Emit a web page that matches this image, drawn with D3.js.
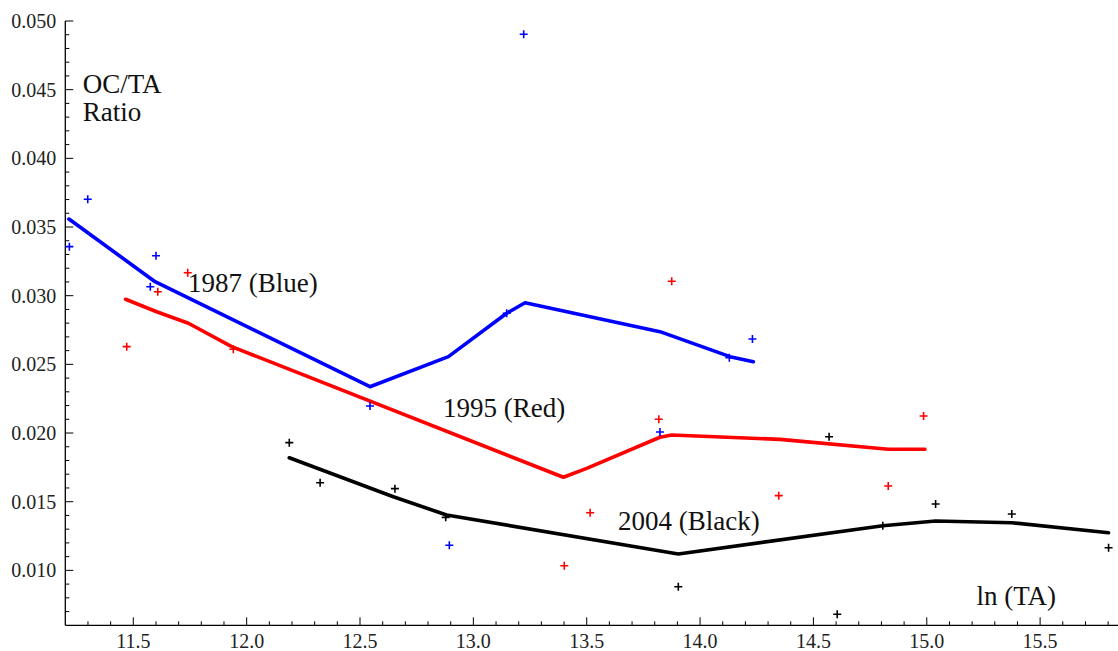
<!DOCTYPE html>
<html lang="en">
<head>
<meta charset="UTF-8">
<title>OC/TA ratio vs ln(TA)</title>
<script src="https://cdnjs.cloudflare.com/ajax/libs/d3/7.8.5/d3.min.js"></script>
<style>
  body { margin: 0; background: #fff; }
</style>
</head>
<body>
<svg id="chart"></svg>
<script>
// scatter points, one pair of arrays per year
var blueX = [11.218, 11.299, 11.575, 11.600, 12.544, 12.894, 13.147, 13.222, 13.823, 14.129, 14.231]
var blueY = [0.03357, 0.03702, 0.03065, 0.03291, 0.02197, 0.01183, 0.02872, 0.04903, 0.02007, 0.02548, 0.02685]
var redX = [11.471, 11.608, 11.740, 11.941, 13.401, 13.515, 13.818, 13.875, 14.347, 14.830, 14.986]
var redY = [0.02629, 0.03029, 0.03167, 0.02610, 0.01034, 0.01420, 0.02100, 0.03105, 0.01544, 0.01614, 0.02124]
var blackX = [12.188, 12.324, 12.654, 12.878, 13.904, 14.569, 14.605, 14.806, 15.039, 15.375, 15.802]
var blackY = [0.01930, 0.01638, 0.01595, 0.01386, 0.00881, 0.01973, 0.00680, 0.01325, 0.01483, 0.01410, 0.01165]

// smoothed lines
var blueLineX = [11.216, 11.596, 12.544, 12.890, 13.147, 13.228, 13.823, 14.132, 14.235]
var blueLineY = [0.03558, 0.03102, 0.02337, 0.02556, 0.02872, 0.02949, 0.02738, 0.02556, 0.02519]
var redLineX = [11.466, 11.603, 11.743, 11.934, 13.397, 13.500, 13.823, 13.875, 14.353, 14.830, 14.992]
var redLineY = [0.02974, 0.02883, 0.02799, 0.02629, 0.01678, 0.01743, 0.01969, 0.01986, 0.01954, 0.01882, 0.01882]
var blackLineX = [12.188, 12.647, 12.882, 13.904, 14.806, 15.039, 15.375, 15.802]
var blackLineY = [0.01820, 0.01536, 0.01403, 0.01119, 0.01325, 0.01359, 0.01347, 0.01274]

var xTicks = [11.5, 12.0, 12.5, 13.0, 13.5, 14.0, 14.5, 15.0, 15.5]
var yTicks = [0.010, 0.015, 0.020, 0.025, 0.030, 0.035, 0.040, 0.045, 0.050]

var W = 1118, H = 651
var FONT = "'Liberation Serif', 'DejaVu Serif', serif"

var svg = d3.select("#chart")
  .attr("width", W)
  .attr("height", H)

var x = d3.scaleLinear().domain([11.2, 15.84]).range([65.3, 1117.2])
var y = d3.scaleLinear().domain([0.006, 0.050]).range([625.3, 21])

// axes, ticks pointing inward
var xMinor = d3.range(11.3, 15.84, 0.1).filter(function(v) {
  return Math.abs(v * 2 - Math.round(v * 2)) > 0.01
})
var yMinor = d3.range(0.007, 0.0505, 0.001).filter(function(v) {
  return Math.abs(v * 200 - Math.round(v * 200)) > 0.01
})

var xAxis = svg.append("g").attr("transform", "translate(0," + y(0.006) + ")")
xAxis.append("line").attr("x1", x(11.2)).attr("x2", W).attr("stroke", "#000").attr("stroke-width", 1.3)
xAxis.selectAll(".maj").data(xTicks).enter().append("line")
  .attr("x1", function(d) { return x(d) }).attr("x2", function(d) { return x(d) })
  .attr("y1", 0).attr("y2", -8).attr("stroke", "#000")
xAxis.selectAll(".min").data(xMinor).enter().append("line")
  .attr("x1", function(d) { return x(d) }).attr("x2", function(d) { return x(d) })
  .attr("y1", 0).attr("y2", -4).attr("stroke", "#000")
xAxis.selectAll("text").data(xTicks).enter().append("text")
  .attr("x", function(d) { return x(d) })
  .attr("y", 23)
  .attr("text-anchor", "middle")
  .attr("font-family", FONT)
  .attr("font-size", 20)
  .attr("fill", "#222")
  .text(function(d) { return d.toFixed(1) })

var yAxis = svg.append("g").attr("transform", "translate(" + x(11.2) + ",0)")
yAxis.append("line").attr("y1", y(0.006)).attr("y2", y(0.050)).attr("stroke", "#000").attr("stroke-width", 1.3)
yAxis.selectAll(".maj").data(yTicks).enter().append("line")
  .attr("y1", function(d) { return y(d) }).attr("y2", function(d) { return y(d) })
  .attr("x1", 0).attr("x2", 8).attr("stroke", "#000")
yAxis.selectAll(".min").data(yMinor).enter().append("line")
  .attr("y1", function(d) { return y(d) }).attr("y2", function(d) { return y(d) })
  .attr("x1", 0).attr("x2", 4).attr("stroke", "#000")
yAxis.selectAll("text").data(yTicks).enter().append("text")
  .attr("x", -9)
  .attr("y", function(d) { return y(d) })
  .attr("dy", "0.35em")
  .attr("text-anchor", "end")
  .attr("font-family", FONT)
  .attr("font-size", 20)
  .attr("fill", "#222")
  .text(function(d) { return d.toFixed(3) })

// lines
var line = d3.line()
  .x(function(d) { return x(d[0]) })
  .y(function(d) { return y(d[1]) })

var series = [
  { lx: blueLineX, ly: blueLineY, px: blueX, py: blueY, color: "#0000ff" },
  { lx: redLineX, ly: redLineY, px: redX, py: redY, color: "#ff0000" },
  { lx: blackLineX, ly: blackLineY, px: blackX, py: blackY, color: "#000000" }
]

series.forEach(function(s) {
  svg.append("path")
    .datum(d3.zip(s.lx, s.ly))
    .attr("d", line)
    .attr("fill", "none")
    .attr("stroke", s.color)
    .attr("stroke-width", 3.6)
    .attr("stroke-linejoin", "round")
    .attr("stroke-linecap", "round")
})

series.forEach(function(s) {
  svg.append("g").selectAll("path")
    .data(d3.zip(s.px, s.py)).enter()
    .append("path")
    .attr("transform", function(d) { return "translate(" + x(d[0]) + "," + y(d[1]) + ")" })
    .attr("d", "M-4,0H4M0,-4V4")
    .attr("stroke", s.color)
    .attr("stroke-width", 1.6)
})

// annotations
var notes = [
  { t: "OC/TA", x: 82.7, y: 92.7 },
  { t: "Ratio", x: 82.7, y: 120.7 },
  { t: "1987 (Blue)", x: 188, y: 291.5 },
  { t: "1995 (Red)", x: 443, y: 416.5 },
  { t: "2004 (Black)", x: 618, y: 529.5 },
  { t: "ln (TA)", x: 976.5, y: 605 }
]
svg.selectAll(".note").data(notes).enter().append("text")
  .attr("x", function(d) { return d.x })
  .attr("y", function(d) { return d.y })
  .attr("font-family", FONT)
  .attr("font-size", 27)
  .attr("fill", "#111")
  .text(function(d) { return d.t })
</script>
</body>
</html>
